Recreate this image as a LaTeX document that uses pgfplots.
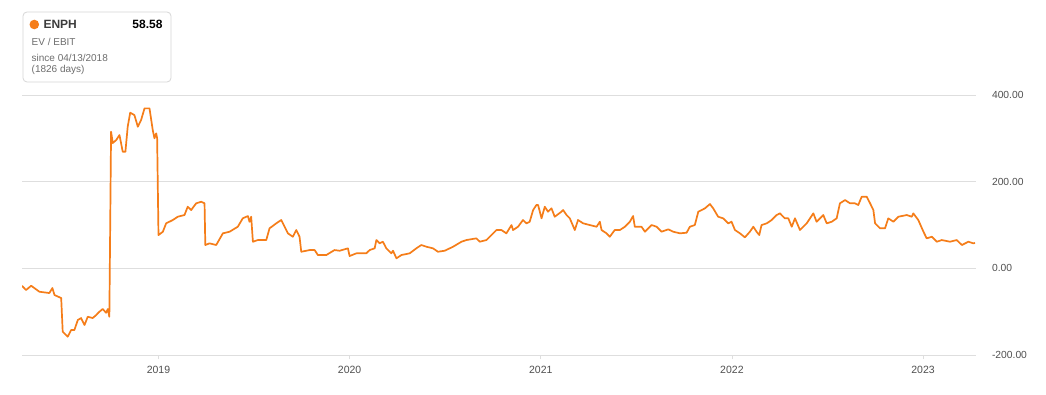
\documentclass[border=0pt]{standalone}
\usepackage{fontspec}
\setmainfont{Liberation Sans}
\usepackage{pgfplots}
\pgfplotsset{compat=1.18}
\definecolor{lineor}{RGB}{245,125,25}
\definecolor{gridc}{RGB}{222,222,222}
\definecolor{ticklab}{RGB}{80,80,80}
\definecolor{boxc}{RGB}{215,215,215}
\definecolor{lgray}{RGB}{110,110,110}
\begin{document}
\begin{tikzpicture}
\path[use as bounding box, fill=white] (0pt,0pt) rectangle (1046pt,394pt);
\begin{axis}[
  at={(22pt,39pt)}, anchor=south west, scale only axis,
  width=954pt, height=260pt,
  xmin=2018.286, xmax=2023.277, ymin=-200, ymax=400,
  axis line style={draw=none},
  ytick={-200,0,200,400}, yticklabels={-200.00,0.00,200.00,400.00},
  yticklabel pos=right,
  yticklabel style={anchor=west, xshift=8.5pt, font=\fontsize{10.3}{12}\selectfont, text=ticklab},
  ytick style={draw=none},
  ymajorgrids, grid style={gridc, line width=0.8pt},
  xtick={2019,2020,2021,2022,2023},
  xticklabels={2019,2020,2021,2022,2023},
  xtick pos=bottom, tick align=outside, major tick length=4pt,
  xtick style={gridc, line width=0.8pt},
  xticklabel style={font=\fontsize{10.5}{12}\selectfont, text=ticklab, yshift=-4pt},
  clip=true,
]
\addplot[lineor, line width=1.7pt, line join=round] coordinates {
(2018.286,-40.2) (2018.307,-50.1) (2018.334,-40.2) (2018.377,-54.0) (2018.429,-57.0)
(2018.445,-45.5) (2018.456,-61.6) (2018.491,-68.5) (2018.499,-146.3) (2018.525,-157.8)
(2018.543,-142.4) (2018.560,-142.4) (2018.578,-119.3) (2018.595,-114.7) (2018.613,-130.8)
(2018.630,-111.7) (2018.656,-114.7) (2018.674,-107.8) (2018.691,-100.2) (2018.708,-93.9)
(2018.726,-102.5) (2018.735,-93.9) (2018.743,-111.7) (2018.752,315.2) (2018.761,289.2)
(2018.779,296.1) (2018.796,307.6) (2018.813,269.1) (2018.827,269.1) (2018.839,326.8)
(2018.852,359.1) (2018.874,353.8) (2018.892,326.8) (2018.909,342.2) (2018.927,369.2)
(2018.953,369.2) (2018.970,319.2) (2018.979,300.0) (2018.988,311.5) (2018.993,300.0)
(2019.000,76.8) (2019.023,84.5) (2019.040,103.8) (2019.075,111.5) (2019.101,119.1)
(2019.136,123.0) (2019.153,142.2) (2019.171,134.5) (2019.197,150.0) (2019.224,153.7)
(2019.241,150.0) (2019.245,53.8) (2019.267,57.7) (2019.302,53.8) (2019.337,80.8)
(2019.372,84.5) (2019.415,96.0) (2019.441,115.4) (2019.468,120.7) (2019.476,107.5)
(2019.485,119.1) (2019.494,61.4) (2019.520,65.3) (2019.564,65.3) (2019.581,92.3)
(2019.616,103.8) (2019.642,111.5) (2019.660,96.0) (2019.677,80.8) (2019.703,72.9)
(2019.721,88.4) (2019.738,72.9) (2019.747,38.3) (2019.791,42.2) (2019.817,42.2)
(2019.834,30.7) (2019.878,30.7) (2019.921,42.2) (2019.948,40.6) (2019.991,46.2)
(2020.000,28.4) (2020.035,34.6) (2020.087,34.6) (2020.105,42.2) (2020.131,46.2)
(2020.140,65.3) (2020.157,57.7) (2020.174,61.4) (2020.192,46.2) (2020.218,34.6)
(2020.227,40.6) (2020.245,23.1) (2020.271,30.7) (2020.314,34.6) (2020.349,46.2)
(2020.375,53.8) (2020.402,49.8) (2020.436,46.2) (2020.462,38.3) (2020.497,40.6)
(2020.541,49.8) (2020.585,61.4) (2020.611,65.3) (2020.663,69.2) (2020.681,61.4)
(2020.716,65.3) (2020.742,76.8) (2020.768,88.4) (2020.794,88.4) (2020.820,80.8)
(2020.847,99.9) (2020.855,88.4) (2020.881,96.0) (2020.907,111.5) (2020.925,103.8)
(2020.942,107.5) (2020.960,134.5) (2020.977,146.1) (2020.986,146.1) (2021.004,115.4)
(2021.021,142.2) (2021.038,130.6) (2021.056,138.5) (2021.073,119.1) (2021.108,130.6)
(2021.117,134.5) (2021.135,123.0) (2021.152,115.4) (2021.178,88.4) (2021.195,111.5)
(2021.222,103.8) (2021.257,99.9) (2021.292,96.0) (2021.309,107.5) (2021.318,88.4)
(2021.344,80.8) (2021.361,72.9) (2021.387,88.4) (2021.414,88.4) (2021.440,96.0)
(2021.466,107.5) (2021.483,120.7) (2021.492,96.0) (2021.527,96.0) (2021.545,84.5)
(2021.580,99.9) (2021.606,96.0) (2021.632,84.5) (2021.667,90.0) (2021.693,84.5)
(2021.728,80.8) (2021.763,82.2) (2021.780,96.0) (2021.806,99.9) (2021.824,130.6)
(2021.859,138.5) (2021.885,148.4) (2021.902,138.5) (2021.928,119.1) (2021.954,115.4)
(2021.981,103.8) (2021.998,107.5) (2022.016,88.4) (2022.042,80.8) (2022.068,71.5)
(2022.094,84.5) (2022.112,96.0) (2022.129,84.5) (2022.143,76.8) (2022.155,99.9)
(2022.182,103.8) (2022.208,111.5) (2022.234,123.0) (2022.251,126.9) (2022.277,115.4)
(2022.295,115.4) (2022.313,96.0) (2022.330,115.4) (2022.356,88.4) (2022.391,103.8)
(2022.426,126.9) (2022.443,107.5) (2022.478,123.0) (2022.496,103.8) (2022.522,107.5)
(2022.548,115.4) (2022.565,150.0) (2022.592,157.6) (2022.618,150.0) (2022.644,150.0)
(2022.661,146.1) (2022.679,165.2) (2022.705,165.2) (2022.723,150.0) (2022.740,134.5)
(2022.749,103.8) (2022.775,92.3) (2022.801,92.3) (2022.818,115.4) (2022.845,107.5)
(2022.871,119.1) (2022.915,123.0) (2022.941,119.1) (2022.949,126.9) (2022.975,111.5)
(2023.002,84.5) (2023.019,69.2) (2023.046,72.9) (2023.072,61.4) (2023.098,65.3)
(2023.141,61.4) (2023.176,65.3) (2023.203,53.8) (2023.237,61.4) (2023.263,57.7)
(2023.272,58.58)
};
\end{axis}
% info box
\draw[boxc, line width=0.8pt, rounded corners=4pt] (23pt,382pt) rectangle (171pt,312pt);
\fill[lineor] (34.3pt,369.5pt) circle (4.8pt);
\node[anchor=west, inner sep=0pt, text={rgb,255:red,60;green,60;blue,60}, font=\fontsize{12}{14}\selectfont\bfseries] at (43.3pt,369.5pt) {ENPH};
\node[anchor=east, inner sep=0pt, text=black, font=\fontsize{12}{14}\selectfont\bfseries] at (162.7pt,369.5pt) {58.58};
\node[anchor=west, inner sep=0pt, text=lgray, font=\fontsize{10}{12}\selectfont] at (31.5pt,352pt) {EV / EBIT};
\node[anchor=west, inner sep=0pt, text=lgray, font=\fontsize{10}{12}\selectfont] at (31.5pt,336.5pt) {since 04/13/2018};
\node[anchor=west, inner sep=0pt, text=lgray, font=\fontsize{10}{12}\selectfont] at (31.5pt,324pt) {(1826 days)};
\end{tikzpicture}
\end{document}
